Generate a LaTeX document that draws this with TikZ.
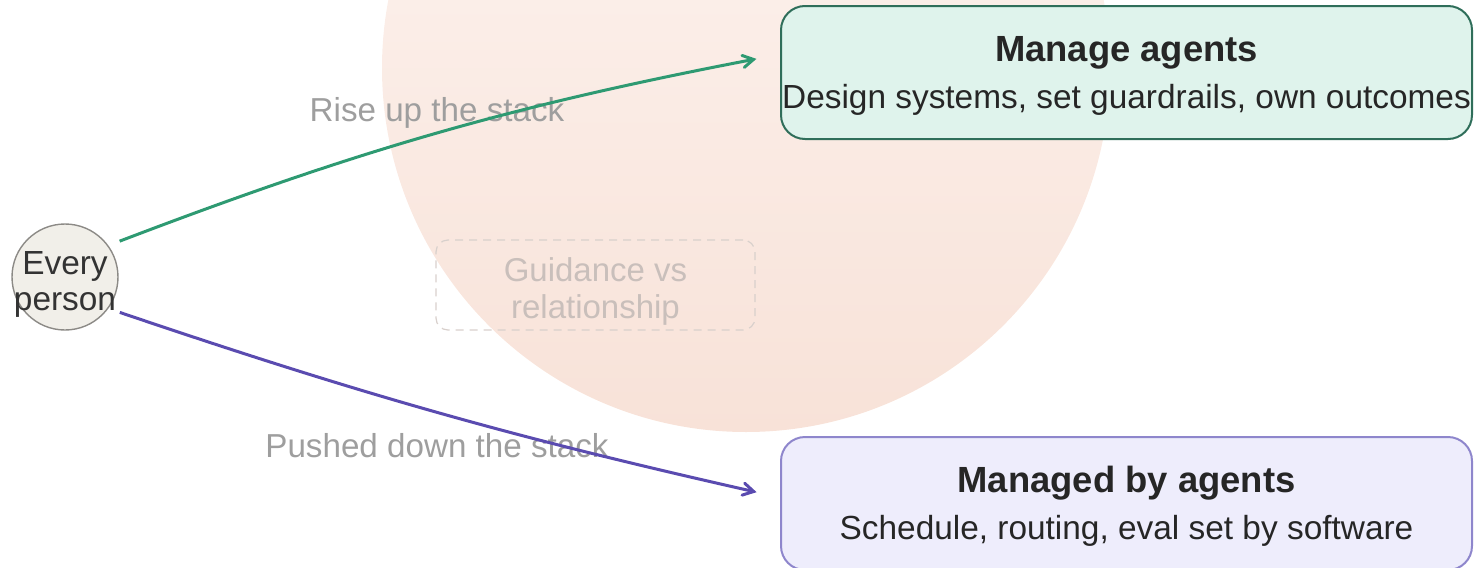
\documentclass[tikz,border=0pt]{standalone}
\usepackage{fontspec}
\setmainfont{Liberation Sans}
\usetikzlibrary{arrows}

\definecolor{bgtop}{HTML}{FDF6F3}
\definecolor{bgbot}{HTML}{F8E2D8}
\definecolor{upline}{HTML}{2E9A72}
\definecolor{upfill}{HTML}{DFF3EC}
\definecolor{updraw}{HTML}{2F6E5A}
\definecolor{downline}{HTML}{5A4BB0}
\definecolor{downfill}{HTML}{EEEDFC}
\definecolor{downdraw}{HTML}{8E86CC}
\definecolor{personfill}{HTML}{F1EFE9}
\definecolor{persondraw}{HTML}{8C8A86}
\definecolor{labelgray}{HTML}{9E9E9E}
\definecolor{guidegray}{HTML}{C9BFBB}
\definecolor{guidedash}{HTML}{D8D0CC}

\begin{document}
\begin{tikzpicture}[x=0.5pt,y=-0.5pt,>=angle 60,
                    role node/.style={draw,rounded corners=12pt,line width=1pt,minimum width=345.5pt,
                      minimum height=66.5pt,inner sep=0pt},
                    role text/.style={align=center,text=black!85,yshift=-1.5pt,
                      font=\fontsize{16.7}{23.5}\selectfont},
                    stack label/.style={text=labelgray,font=\fontsize{16.6}{18}\selectfont}]
  \useasboundingbox (0,0) rectangle (1474,568);

  % background disc
  \shade[top color=bgtop,bottom color=bgbot] (746,68) circle [radius=364];

  \node[draw=guidedash,dashed,dash pattern=on 4pt off 3pt,rounded corners=6pt,line width=0.6pt,
        minimum width=159.5pt,minimum height=45pt,
        label={[align=center,text=guidegray,yshift=-3.3pt,font=\fontsize{16.5}{18.5}\selectfont]center:{Guidance vs\\relationship}}]
        (guide) at (595.5,285) {};

  \node[stack label] (rise) at (437,113) {Rise up the stack};
  \node[stack label] (push) at (437,446) {Pushed down the stack};

  \node[circle,draw=persondraw,fill=personfill,line width=0.7pt,minimum size=53pt,inner sep=0pt,
        label={[align=center,text=black!80,yshift=-3.6pt,font=\fontsize{16.7}{18}\selectfont]center:{Every\\person}}]
        (person) at (65,277) {};

  \node[role node,draw=updraw,fill=upfill,
        label={[role text]center:{{\fontsize{18.2}{23.5}\selectfont\bfseries Manage agents}\\Design systems, set guardrails, own outcomes}}]
        (manage) at (1126.5,72.5) {};
  \node[role node,draw=downdraw,fill=downfill,
        label={[role text]center:{{\fontsize{18.2}{23.5}\selectfont\bfseries Managed by agents}\\Schedule, routing, eval set by software}}]
        (managed) at (1126.5,503.5) {};

\path[->,line width=1.5pt,shorten >=12pt,shorten <=6pt]
    (person.36) edge[upline,bend left=5] (manage.177.8)
    (person.-36) edge[downline,bend right=3] (managed.179.4)
;
\end{tikzpicture}
\end{document}
